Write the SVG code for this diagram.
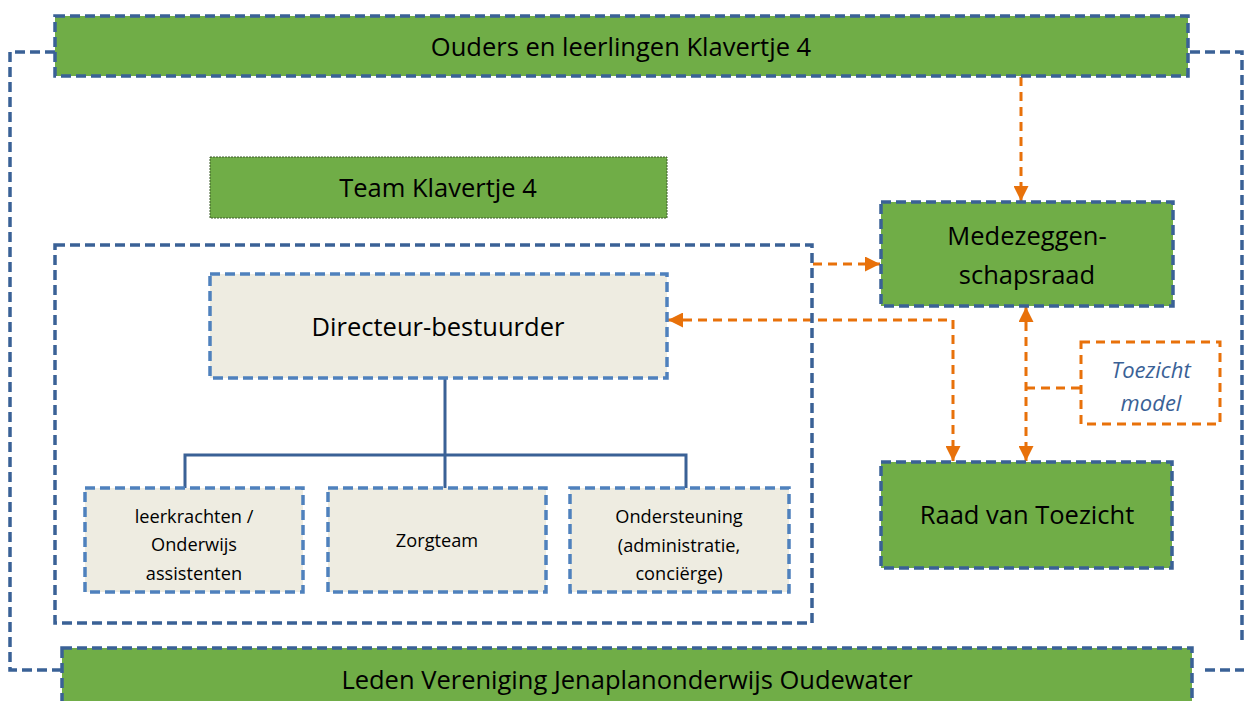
<svg xmlns="http://www.w3.org/2000/svg" width="1244" height="701" viewBox="0 0 1244 701">
<defs>
<style>
.green{fill:#70AD47;stroke:#3A6196;stroke-width:3.5;stroke-dasharray:10 5}
.light{fill:#EEECE1;stroke:#4F81BD;stroke-width:3.5;stroke-dasharray:10 5}
.blued{fill:none;stroke:#3A6196;stroke-width:3.5;stroke-dasharray:10 5}
.tree{fill:none;stroke:#3A6196;stroke-width:3}
.or{fill:none;stroke:#E8710A;stroke-width:3;stroke-dasharray:9 6}
.t{font-family:"Open Sans","Liberation Sans",sans-serif;fill:#000;text-anchor:middle}
.big{font-size:25.5px}
.small{font-size:18.2px}
.it{font-family:"Open Sans","Liberation Sans",sans-serif;font-style:italic;font-size:22px;fill:#3A6196;text-anchor:middle}
</style>
<marker id="ah" viewBox="0 0 10 10" refX="10" refY="5" markerWidth="5" markerHeight="5" orient="auto-start-reverse" markerUnits="strokeWidth">
<path d="M0,0 L10,5 L0,10 z" fill="#E8710A"/>
</marker>
</defs>
<g id="connectors">
<path class="blued" d="M55,52 H10 V670 H62"/>
<path class="blued" d="M1190,52 H1242 V640"/>
<path class="blued" d="M1205,670 H1244"/>
<path class="tree" d="M445,378 V455 M185,488 V455 H686 V488 M445,455 V488"/>
<path class="or" marker-end="url(#ah)" d="M1021,77 V201"/>
<path class="or" marker-end="url(#ah)" d="M813,264 H880"/>
<path class="or" marker-start="url(#ah)" marker-end="url(#ah)" d="M668,320 H953 V461"/>
<path class="or" marker-start="url(#ah)" marker-end="url(#ah)" d="M1026,307 V461"/>
<path class="or" d="M1026,388 H1081"/>
</g>
<g id="ouders">
<rect class="green" x="55" y="16" width="1133" height="60"/>
<text class="t big" x="621" y="56">Ouders en leerlingen Klavertje 4</text>
</g>
<g id="team-label">
<rect x="210" y="157" width="457" height="61" fill="#70AD47" stroke="#3D5A2A" stroke-width="1" stroke-dasharray="2 1"/>
<text class="t big" x="438" y="197">Team Klavertje 4</text>
</g>
<g id="team">
<rect class="blued" x="55" y="245" width="757" height="378"/>
</g>
<g id="directeur">
<rect class="light" x="210" y="274" width="457" height="104"/>
<text class="t big" x="438" y="336">Directeur-bestuurder</text>
</g>
<g id="leerkrachten">
<rect class="light" x="85" y="488" width="218" height="104"/>
<text class="t small" x="194" y="523">leerkrachten /</text>
<text class="t small" x="194" y="551">Onderwijs</text>
<text class="t small" x="194" y="580">assistenten</text>
</g>
<g id="zorgteam">
<rect class="light" x="328" y="488" width="218" height="104"/>
<text class="t small" x="437" y="547">Zorgteam</text>
</g>
<g id="ondersteuning">
<rect class="light" x="570" y="488" width="219" height="104"/>
<text class="t small" x="679" y="523">Ondersteuning</text>
<text class="t small" x="679" y="552">(administratie,</text>
<text class="t small" x="679" y="580">conciërge)</text>
</g>
<g id="mr">
<rect class="green" x="881" y="202" width="292" height="104"/>
<text class="t big" x="1027" y="245">Medezeggen-</text>
<text class="t big" x="1027" y="284">schapsraad</text>
</g>
<g id="rvt">
<rect class="green" x="881" y="462" width="291" height="106"/>
<text class="t big" x="1027" y="524">Raad van Toezicht</text>
</g>
<g id="toezichtmodel">
<rect x="1081" y="342" width="139" height="82" fill="#fff" stroke="#E8710A" stroke-width="3" stroke-dasharray="9 6"/>
<text class="it" x="1151" y="378">Toezicht</text>
<text class="it" x="1151" y="411">model</text>
</g>
<g id="leden">
<rect class="green" x="62" y="648" width="1130" height="60"/>
<text class="t big" x="627" y="689">Leden Vereniging Jenaplanonderwijs Oudewater</text>
</g>
</svg>
